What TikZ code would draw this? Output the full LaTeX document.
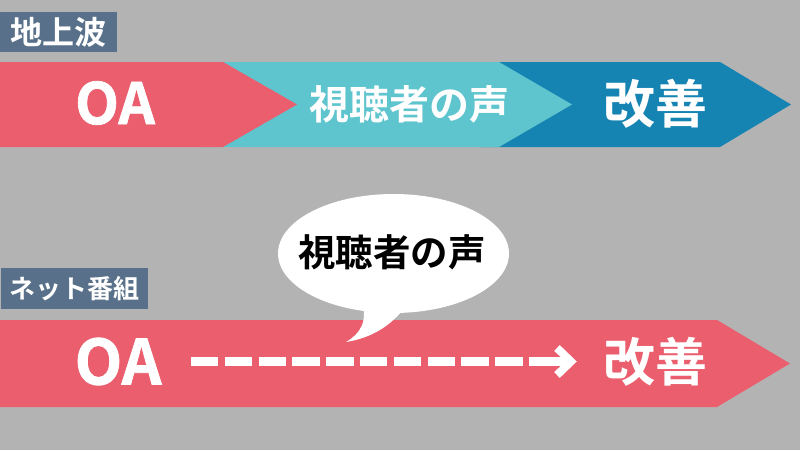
\documentclass[tikz,border=0pt]{standalone}
\usepackage{fontspec}
\newfontfamily\jp{Noto Sans CJK JP}[BoldFont={Noto Sans CJK JP Bold}]
\newfontfamily\jpheavy{Noto Sans CJK JP Bold}[FakeBold=1.2]
\definecolor{bg}{RGB}{179,179,179}
\definecolor{cred}{RGB}{235,94,110}
\definecolor{ccyan}{RGB}{94,196,206}
\definecolor{cblue}{RGB}{22,132,178}
\definecolor{clabel}{RGB}{88,112,137}
\tikzset{
  lbl/.style={fill=clabel,text=white,inner sep=0pt,font=\jp\bfseries},
  wtxt/.style={text=white,inner sep=0pt},
  btxt/.style={text=black,inner sep=0pt},
}
\begin{document}
\begin{tikzpicture}[x=1pt,y=-1pt]
\fill[bg] (0,0) rectangle (800,450);
\useasboundingbox (0,0) rectangle (800,450);
% top chevrons
\fill[cblue] (480,62) -- (720,62) -- (791,104.5) -- (720,147) -- (480,147) -- cycle;
\fill[ccyan] (200,62) -- (499,62) -- (572,104.5) -- (499,147) -- (200,147) -- cycle;
\fill[cred] (0,62) -- (223,62) -- (297,104.5) -- (223,147) -- (0,147) -- cycle;
\node[lbl,minimum width=117pt,minimum height=40pt,font=\jp\bfseries\fontsize{32}{32}\selectfont] (lab1) at (58.5,32) {地上波};
\node[wtxt,font=\jpheavy\fontsize{57}{57}\selectfont] (oa1) at (115,103) {OA};
\node[wtxt,font=\jp\bfseries\fontsize{40}{40}\selectfont] (voice1) at (409,104) {視聴者の声};
\node[wtxt,font=\jp\bfseries\fontsize{52}{52}\selectfont] (kz1) at (655,104) {改善};
% bottom band
\fill[cred] (0,320) -- (717,320) -- (790,363.5) -- (717,407) -- (0,407) -- cycle;
\node[lbl,minimum width=147pt,minimum height=41pt,font=\jp\bfseries\fontsize{26}{26}\selectfont] (lab2) at (74.5,288.5) {ネット番組};
\node[wtxt,font=\jpheavy\fontsize{62}{62}\selectfont] (oa2) at (118,361.5) {OA};
\node[wtxt,font=\jp\bfseries\fontsize{52}{52}\selectfont] (kz2) at (655,362) {改善};
% bubble
\fill[white] (393.5,253.5) ellipse [x radius=115.5, y radius=59.5];
\fill[white] (362,300) .. controls (368,322) and (360,334) .. (346,342) .. controls (372,338) and (392,325) .. (406,306) -- cycle;
\node[btxt,font=\jp\bfseries\fontsize{37.5}{37.5}\selectfont] (voice2) at (392,252) {視聴者の声};
% dashed arrow
\coordinate (ds) at (191,361.5);
\coordinate (de) at (525,361.5);
\coordinate (as) at (529,361.5);
\coordinate (ae) at (570,361.5);
\draw[white,line width=9pt,dash pattern=on 27.3pt off 6.5pt] (ds) -- (de);
\draw[white,line width=9pt] (as) -- (ae);
\draw[white,line width=8pt,miter limit=10] (557,348) -- (571,361.5) -- (557,375);
\end{tikzpicture}
\end{document}
